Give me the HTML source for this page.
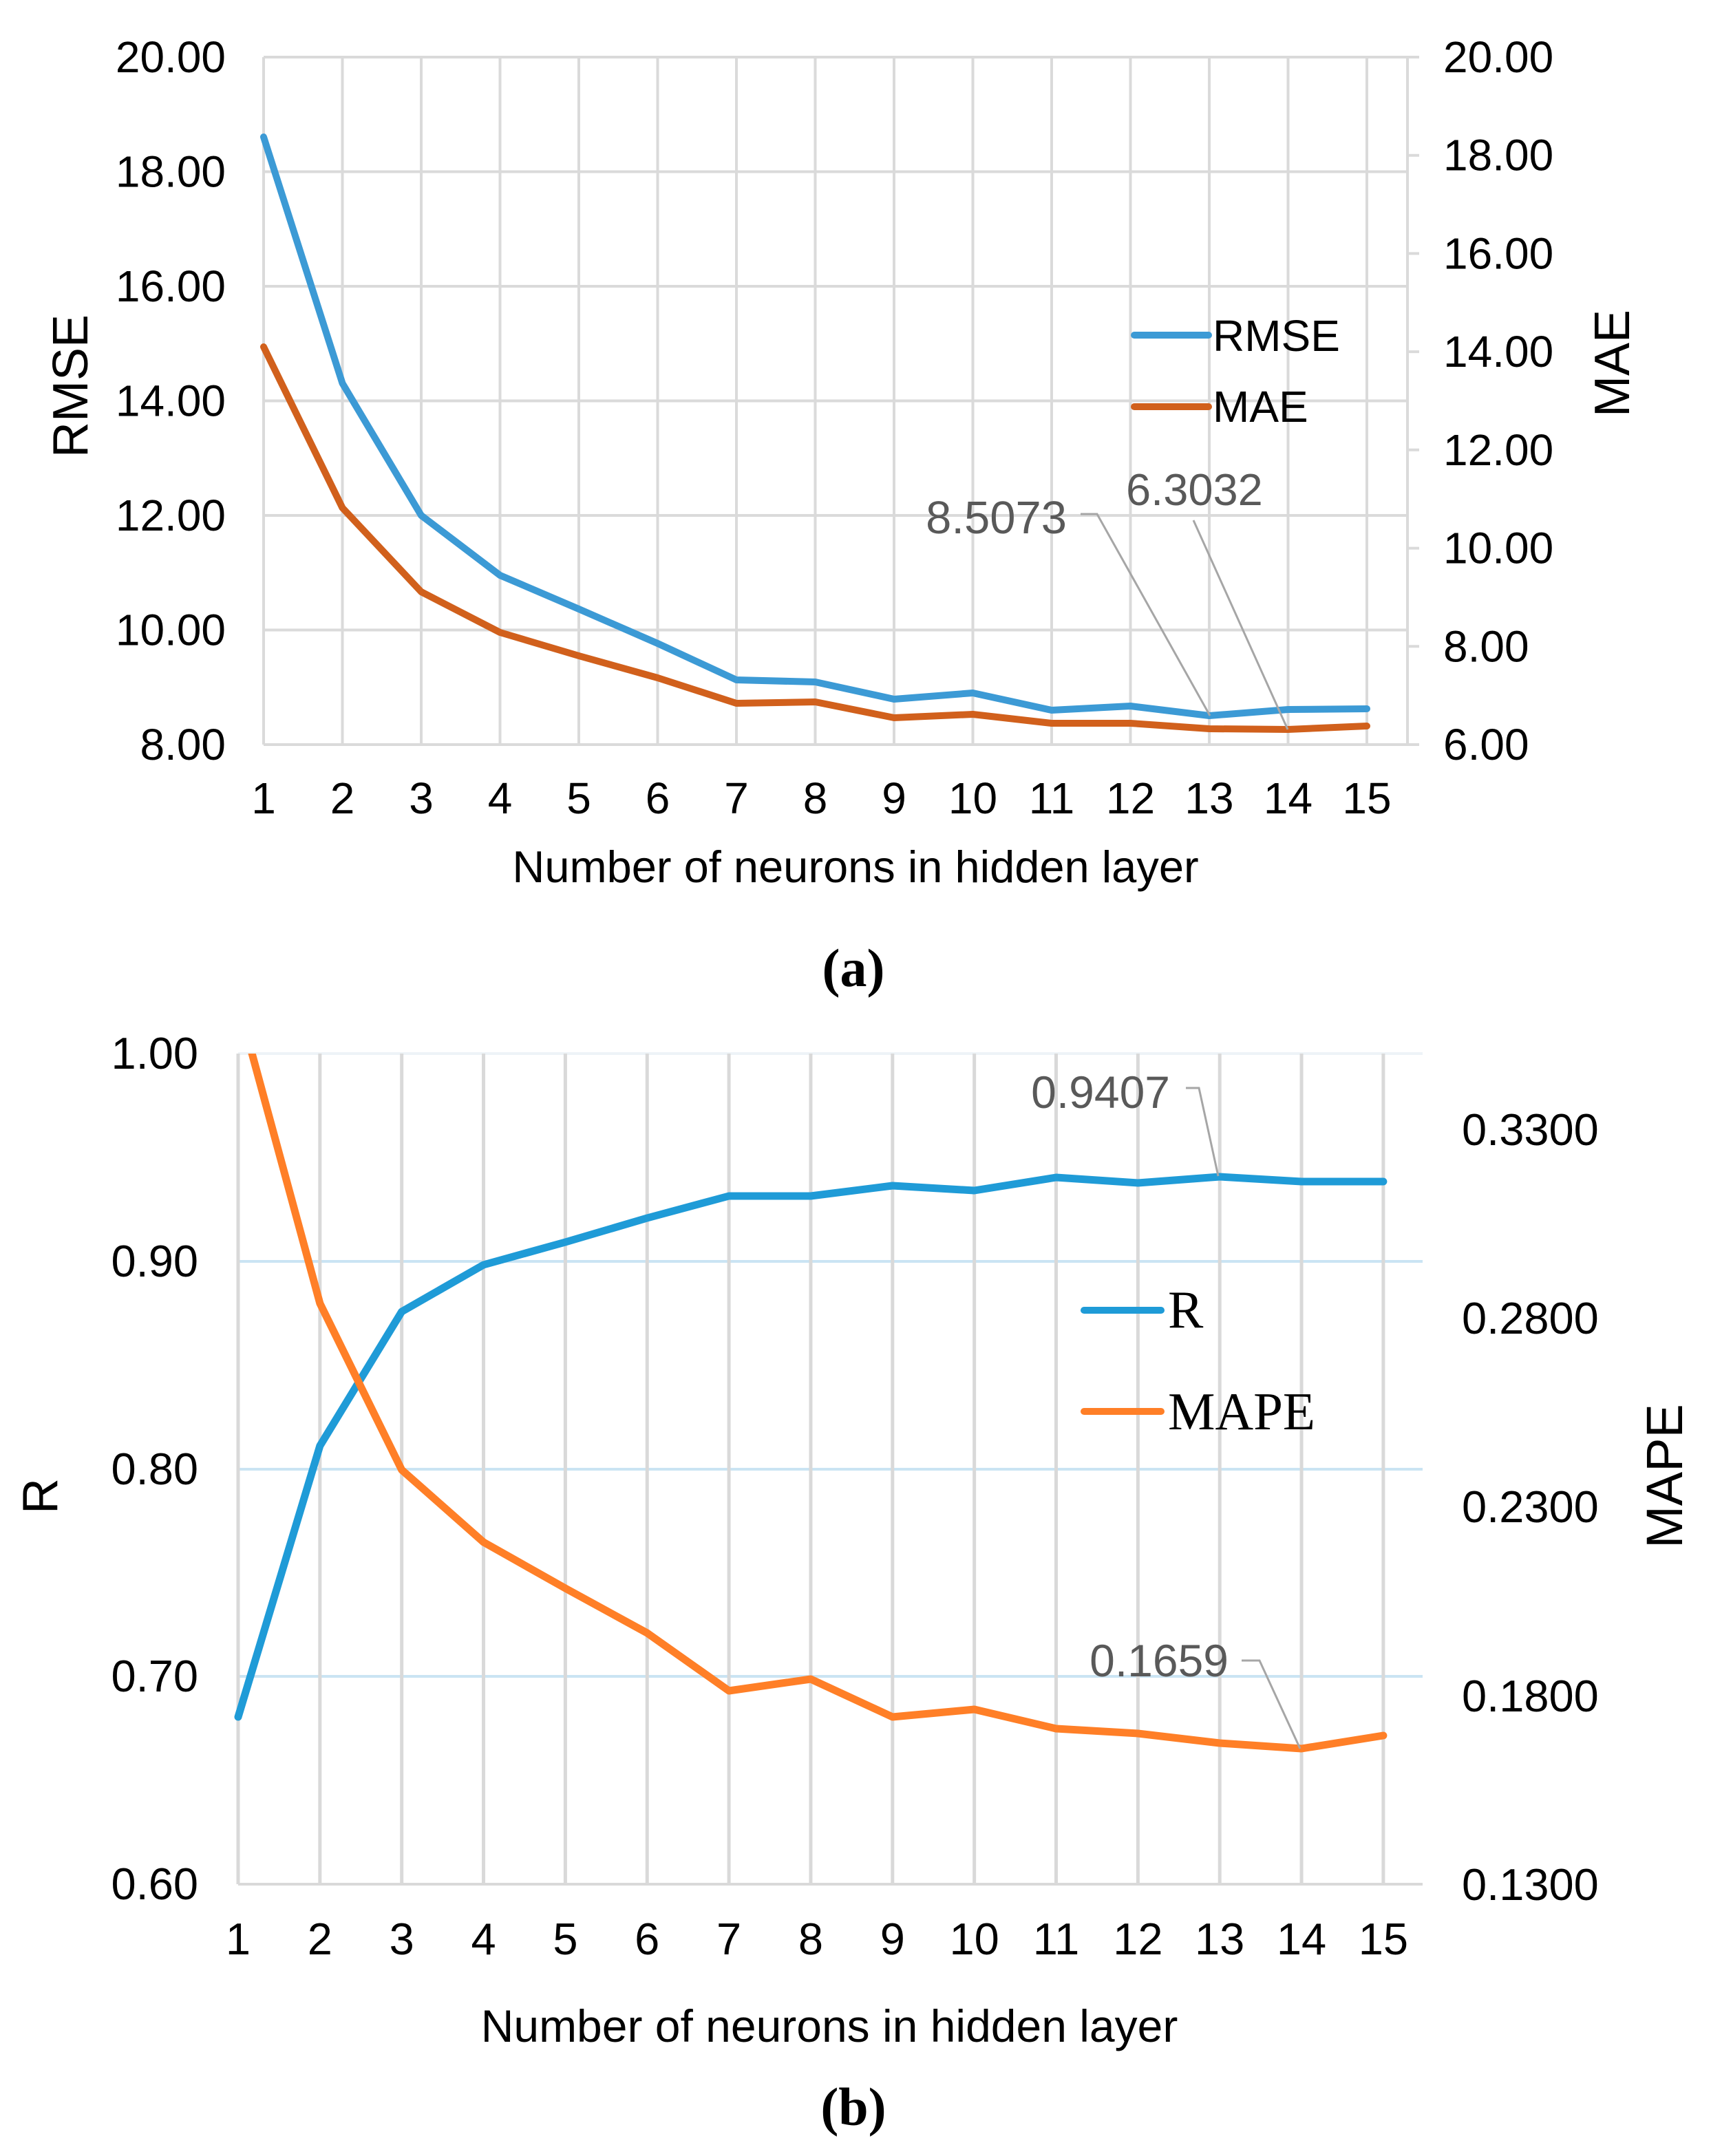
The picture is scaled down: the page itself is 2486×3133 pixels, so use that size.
<!DOCTYPE html>
<html>
<head>
<meta charset="utf-8">
<style>
html,body{margin:0;padding:0;background:#fff;}
svg{display:block;}
</style>
</head>
<body>
<svg width="2486" height="3133" viewBox="0 0 2486 3133" xmlns="http://www.w3.org/2000/svg" font-family="'Liberation Sans', Arial, sans-serif">
<rect x="0" y="0" width="2486" height="3133" fill="#ffffff"/>

<!-- ================= CHART (a) ================= -->
<g stroke="#dadada" stroke-width="4" fill="none">
  <line x1="383" y1="83" x2="2045" y2="83"/>
  <line x1="383" y1="249.5" x2="2045" y2="249.5"/>
  <line x1="383" y1="416" x2="2045" y2="416"/>
  <line x1="383" y1="582.5" x2="2045" y2="582.5"/>
  <line x1="383" y1="749" x2="2045" y2="749"/>
  <line x1="383" y1="915.5" x2="2045" y2="915.5"/>
  <line x1="383" y1="1082" x2="2045" y2="1082"/>
  <line x1="383" y1="83" x2="383" y2="1082"/>
  <line x1="497.5" y1="83" x2="497.5" y2="1082"/>
  <line x1="612" y1="83" x2="612" y2="1082"/>
  <line x1="726.5" y1="83" x2="726.5" y2="1082"/>
  <line x1="841" y1="83" x2="841" y2="1082"/>
  <line x1="955.5" y1="83" x2="955.5" y2="1082"/>
  <line x1="1070" y1="83" x2="1070" y2="1082"/>
  <line x1="1184.5" y1="83" x2="1184.5" y2="1082"/>
  <line x1="1299" y1="83" x2="1299" y2="1082"/>
  <line x1="1413.5" y1="83" x2="1413.5" y2="1082"/>
  <line x1="1528" y1="83" x2="1528" y2="1082"/>
  <line x1="1642.5" y1="83" x2="1642.5" y2="1082"/>
  <line x1="1757" y1="83" x2="1757" y2="1082"/>
  <line x1="1871.5" y1="83" x2="1871.5" y2="1082"/>
  <line x1="1986" y1="83" x2="1986" y2="1082"/>
  <line x1="2045" y1="83" x2="2045" y2="1082"/>
  <line x1="2045" y1="83" x2="2062" y2="83"/>
  <line x1="2045" y1="225.7" x2="2062" y2="225.7"/>
  <line x1="2045" y1="368.4" x2="2062" y2="368.4"/>
  <line x1="2045" y1="511.1" x2="2062" y2="511.1"/>
  <line x1="2045" y1="653.8" x2="2062" y2="653.8"/>
  <line x1="2045" y1="796.6" x2="2062" y2="796.6"/>
  <line x1="2045" y1="939.3" x2="2062" y2="939.3"/>
  <line x1="2045" y1="1082" x2="2062" y2="1082"/>
</g>

<g font-size="64" fill="#000" text-anchor="end">
  <text x="328" y="105">20.00</text>
  <text x="328" y="271.5">18.00</text>
  <text x="328" y="438">16.00</text>
  <text x="328" y="604.5">14.00</text>
  <text x="328" y="771">12.00</text>
  <text x="328" y="937.5">10.00</text>
  <text x="328" y="1104">8.00</text>
</g>
<g font-size="64" fill="#000">
  <text x="2097" y="105">20.00</text>
  <text x="2097" y="247.7">18.00</text>
  <text x="2097" y="390.4">16.00</text>
  <text x="2097" y="533.1">14.00</text>
  <text x="2097" y="675.8">12.00</text>
  <text x="2097" y="818.6">10.00</text>
  <text x="2097" y="961.3">8.00</text>
  <text x="2097" y="1104">6.00</text>
</g>
<g font-size="64" fill="#000" text-anchor="middle">
  <text x="383" y="1182">1</text>
  <text x="497.5" y="1182">2</text>
  <text x="612" y="1182">3</text>
  <text x="726.5" y="1182">4</text>
  <text x="841" y="1182">5</text>
  <text x="955.5" y="1182">6</text>
  <text x="1070" y="1182">7</text>
  <text x="1184.5" y="1182">8</text>
  <text x="1299" y="1182">9</text>
  <text x="1413.5" y="1182">10</text>
  <text x="1528" y="1182">11</text>
  <text x="1642.5" y="1182">12</text>
  <text x="1757" y="1182">13</text>
  <text x="1871.5" y="1182">14</text>
  <text x="1986" y="1182">15</text>
</g>
<text x="1243" y="1282" font-size="65" text-anchor="middle" fill="#000">Number of neurons in hidden layer</text>
<text transform="translate(127,561) rotate(-90)" font-size="72" text-anchor="middle" fill="#000">RMSE</text>
<text transform="translate(2367,528) rotate(-90)" font-size="72" text-anchor="middle" fill="#000">MAE</text>

<polyline fill="none" stroke="#d1601c" stroke-width="10" stroke-linejoin="round" stroke-linecap="round"
  points="383,504 497.5,738 612,860 726.5,919 841,953 955.5,985 1070,1022 1184.5,1020 1299,1043 1413.5,1038 1528,1051 1642.5,1051 1757,1059 1871.5,1060 1986,1055"/>
<polyline fill="none" stroke="#3c9ad5" stroke-width="10" stroke-linejoin="round" stroke-linecap="round"
  points="383,199 497.5,557 612,749 726.5,836 841,885 955.5,935 1070,988 1184.5,991 1299,1016 1413.5,1007 1528,1032 1642.5,1026 1757,1040 1871.5,1031 1986,1030"/>

<polyline fill="none" stroke="#a6a6a6" stroke-width="3" points="1570,747 1594,747 1758,1040"/>
<polyline fill="none" stroke="#a6a6a6" stroke-width="3" points="1734,756 1871,1060"/>
<text x="1550" y="775" font-size="67" text-anchor="end" fill="#595959">8.5073</text>
<text x="1636" y="734" font-size="65" fill="#595959">6.3032</text>

<line x1="1648" y1="487" x2="1756" y2="487" stroke="#3c9ad5" stroke-width="10" stroke-linecap="round"/>
<line x1="1648" y1="591" x2="1756" y2="591" stroke="#d1601c" stroke-width="10" stroke-linecap="round"/>
<text x="1762" y="510" font-size="64" fill="#000">RMSE</text>
<text x="1762" y="613" font-size="64" fill="#000">MAE</text>

<text x="1240" y="1433" font-family="'Liberation Serif', 'Times New Roman', serif" font-weight="bold" font-size="78" text-anchor="middle" fill="#000">(a)</text>

<!-- ================= CHART (b) ================= -->
<defs>
  <clipPath id="clipb"><rect x="340" y="1531" width="1727" height="1210"/></clipPath>
</defs>
<g fill="none">
  <line x1="346" y1="1531" x2="2067" y2="1531" stroke="#eef3f7" stroke-width="4"/>
  <line x1="346" y1="1833" x2="2067" y2="1833" stroke="#cae4f3" stroke-width="4"/>
  <line x1="346" y1="2135" x2="2067" y2="2135" stroke="#cae4f3" stroke-width="4"/>
  <line x1="346" y1="2436" x2="2067" y2="2436" stroke="#cae4f3" stroke-width="4"/>
</g>
<g stroke="#d9d9d9" stroke-width="5" fill="none">
  <line x1="346" y1="1531" x2="346" y2="2738"/>
  <line x1="464.85" y1="1531" x2="464.85" y2="2738"/>
  <line x1="583.7" y1="1531" x2="583.7" y2="2738"/>
  <line x1="702.55" y1="1531" x2="702.55" y2="2738"/>
  <line x1="821.4" y1="1531" x2="821.4" y2="2738"/>
  <line x1="940.25" y1="1531" x2="940.25" y2="2738"/>
  <line x1="1059.1" y1="1531" x2="1059.1" y2="2738"/>
  <line x1="1177.95" y1="1531" x2="1177.95" y2="2738"/>
  <line x1="1296.8" y1="1531" x2="1296.8" y2="2738"/>
  <line x1="1415.65" y1="1531" x2="1415.65" y2="2738"/>
  <line x1="1534.5" y1="1531" x2="1534.5" y2="2738"/>
  <line x1="1653.35" y1="1531" x2="1653.35" y2="2738"/>
  <line x1="1772.2" y1="1531" x2="1772.2" y2="2738"/>
  <line x1="1891.05" y1="1531" x2="1891.05" y2="2738"/>
  <line x1="2009.9" y1="1531" x2="2009.9" y2="2738"/>
  <line x1="346" y1="2738" x2="2067" y2="2738" stroke-width="4"/>
</g>

<g font-size="65" fill="#000" text-anchor="end">
  <text x="288" y="1553">1.00</text>
  <text x="288" y="1855">0.90</text>
  <text x="288" y="2157">0.80</text>
  <text x="288" y="2458">0.70</text>
  <text x="288" y="2760">0.60</text>
</g>
<g font-size="65" fill="#000">
  <text x="2124" y="1664">0.3300</text>
  <text x="2124" y="1938">0.2800</text>
  <text x="2124" y="2212">0.2300</text>
  <text x="2124" y="2487">0.1800</text>
  <text x="2124" y="2761">0.1300</text>
</g>
<g font-size="65" fill="#000" text-anchor="middle">
  <text x="346" y="2840">1</text>
  <text x="464.85" y="2840">2</text>
  <text x="583.7" y="2840">3</text>
  <text x="702.55" y="2840">4</text>
  <text x="821.4" y="2840">5</text>
  <text x="940.25" y="2840">6</text>
  <text x="1059.1" y="2840">7</text>
  <text x="1177.95" y="2840">8</text>
  <text x="1296.8" y="2840">9</text>
  <text x="1415.65" y="2840">10</text>
  <text x="1534.5" y="2840">11</text>
  <text x="1653.35" y="2840">12</text>
  <text x="1772.2" y="2840">13</text>
  <text x="1891.05" y="2840">14</text>
  <text x="2009.9" y="2840">15</text>
</g>
<text x="1205" y="2967" font-size="66" text-anchor="middle" fill="#000">Number of neurons in hidden layer</text>
<text transform="translate(83,2174) rotate(-90)" font-size="72" text-anchor="middle" fill="#000">R</text>
<text transform="translate(2444,2145) rotate(-90)" font-size="74" text-anchor="middle" fill="#000">MAPE</text>

<g clip-path="url(#clipb)" fill="none" stroke-width="11" stroke-linejoin="round" stroke-linecap="round">
  <polyline stroke="#1f9bd7" points="346,2495 464.85,2101 583.7,1906 702.55,1838 821.4,1805 940.25,1770 1059.1,1738 1177.95,1738 1296.8,1723 1415.65,1730 1534.5,1711 1653.35,1719 1772.2,1710 1891.05,1717 2009.9,1717"/>
  <polyline stroke="#ff7f27" points="346,1457 464.85,1894 583.7,2136 702.55,2241 821.4,2308 940.25,2373 1059.1,2457 1177.95,2440 1296.8,2495 1415.65,2484 1534.5,2512 1653.35,2519 1772.2,2533 1891.05,2541 2009.9,2522"/>
</g>

<polyline fill="none" stroke="#a6a6a6" stroke-width="3" points="1723,1581 1742,1581 1770,1709"/>
<polyline fill="none" stroke="#a6a6a6" stroke-width="3" points="1804,2413 1830,2413 1889,2541"/>
<text x="1700" y="1610" font-size="66" text-anchor="end" fill="#595959">0.9407</text>
<text x="1785" y="2436" font-size="66" text-anchor="end" fill="#595959">0.1659</text>

<line x1="1575" y1="1904" x2="1687" y2="1904" stroke="#1f9bd7" stroke-width="10" stroke-linecap="round"/>
<line x1="1575" y1="2051" x2="1687" y2="2051" stroke="#ff7f27" stroke-width="10" stroke-linecap="round"/>
<text x="1697" y="1929" font-family="'Liberation Serif', 'Times New Roman', serif" font-size="77" fill="#000">R</text>
<text x="1697" y="2077" font-family="'Liberation Serif', 'Times New Roman', serif" font-size="77" fill="#000">MAPE</text>

<text x="1240" y="3088" font-family="'Liberation Serif', 'Times New Roman', serif" font-weight="bold" font-size="78" text-anchor="middle" fill="#000">(b)</text>
</svg>
</body>
</html>
